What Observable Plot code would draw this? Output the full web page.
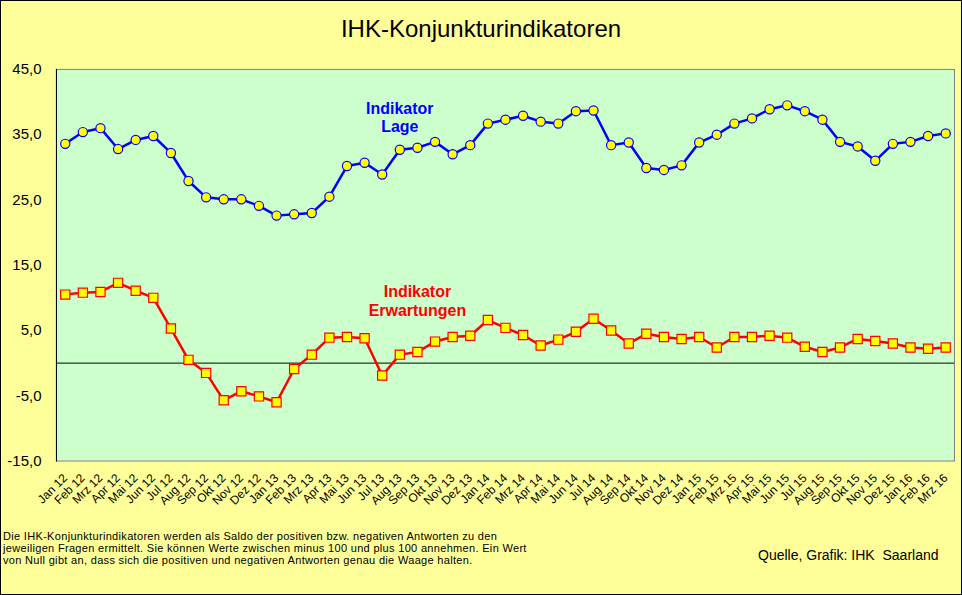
<!DOCTYPE html>
<html>
<head>
<meta charset="utf-8">
<script src="https://cdn.jsdelivr.net/npm/d3@7"></script>
<script src="https://cdn.jsdelivr.net/npm/@observablehq/plot@0.6"></script>
<style>
  body { margin: 0; background: #fff; }
  #box { position: absolute; left: 0; top: 0; width: 962px; height: 595px; box-sizing: border-box;
         border: 1px solid #000; background: #FFFF99; font-family: Arial, "Liberation Sans", sans-serif; overflow: hidden; }
  #title { position: absolute; left: 0; top: 14px; width: 960px; text-align: center; font-size: 24px; line-height: 28px; color: #000; }
  #chart { position: absolute; left: -1px; top: -1px; }
  #note { position: absolute; left: 2px; top: 529px; font-size: 11px; line-height: 12px; letter-spacing: 0.32px; color: #000; }
  #src { position: absolute; left: 757px; top: 546px; font-size: 14px; line-height: 16px; color: #000; }
</style>
</head>
<body>
<div id="box">
  <div id="chart"></div>
  <div id="title">IHK-Konjunkturindikatoren</div>
  <div id="note">Die IHK-Konjunkturindikatoren werden als Saldo der positiven bzw. negativen Antworten zu den<br>jeweiligen Fragen ermittelt. Sie können Werte zwischen minus 100 und plus 100 annehmen. Ein Wert<br>von Null gibt an, dass sich die positiven und negativen Antworten genau die Waage halten.</div>
  <div id="src">Quelle, Grafik: IHK&nbsp; Saarland</div>
</div>
<script>
const months = [
  "Jan 12","Feb 12","Mrz 12","Apr 12","Mai 12","Jun 12","Jul 12","Aug 12","Sep 12","Okt 12","Nov 12","Dez 12",
  "Jan 13","Feb 13","Mrz 13","Apr 13","Mai 13","Jun 13","Jul 13","Aug 13","Sep 13","Okt 13","Nov 13","Dez 13",
  "Jan 14","Feb 14","Mrz 14","Apr 14","Mai 14","Jun 14","Jul 14","Aug 14","Sep 14","Okt 14","Nov 14","Dez 14",
  "Jan 15","Feb 15","Mrz 15","Apr 15","Mai 15","Jun 15","Jul 15","Aug 15","Sep 15","Okt 15","Nov 15","Dez 15",
  "Jan 16","Feb 16","Mrz 16"
];
const lage = [
  33.6, 35.4, 36.0, 32.8, 34.2, 34.8, 32.2, 27.9, 25.4, 25.1, 25.1, 24.1,
  22.6, 22.8, 23.0, 25.5, 30.2, 30.7, 28.9, 32.7, 33.0, 33.9, 32.0, 33.4,
  36.7, 37.3, 37.9, 37.0, 36.7, 38.6, 38.7, 33.4, 33.8, 29.9, 29.6, 30.3,
  33.8, 35.0, 36.7, 37.5, 38.9, 39.5, 38.6, 37.3, 33.9, 33.2, 31.0, 33.6,
  33.9, 34.8, 35.2
];
const erwartungen = [
  10.5, 10.8, 10.9, 12.3, 11.1, 10.0, 5.3, 0.5, -1.5, -5.7, -4.3, -5.1,
  -6.0, -0.9, 1.3, 3.9, 4.0, 3.8, -1.9, 1.3, 1.7, 3.3, 4.0, 4.2,
  6.6, 5.4, 4.3, 2.7, 3.6, 4.8, 6.8, 5.0, 3.0, 4.5, 4.0, 3.7,
  4.0, 2.4, 4.0, 4.0, 4.2, 3.9, 2.5, 1.7, 2.4, 3.7, 3.4, 3.0,
  2.4, 2.2, 2.4
];
const yTicks = [-15, -5, 5, 15, 25, 35, 45];
const labels = [
  {text: "Indikator\nLage", month: "Aug 13", value: 37.7, color: "#0000FF"},
  {text: "Indikator\nErwartungen", month: "Sep 13", value: 9.6, color: "#FF0000"}
];

const data = months.map((m, i) => ({month: m, lage: lage[i], erw: erwartungen[i]}));

const chart = Plot.plot({
  width: 962,
  height: 595,
  marginLeft: 56,
  marginRight: 7,
  marginTop: 69,
  marginBottom: 134,
  style: {background: "transparent", fontFamily: "Arial, 'Liberation Sans', sans-serif", color: "#000"},
  x: {type: "point", domain: months, padding: 0.5, label: null},
  y: {domain: [-15, 45], label: null},
  marks: [
    Plot.frame({fill: "#CCFFCC", stroke: "#808080"}),
    Plot.frame({anchor: "left", stroke: "#000"}),
    Plot.ruleY([0], {stroke: "#000", strokeWidth: 1}),
    Plot.line(data, {x: "month", y: "lage", stroke: "#0000FF", strokeWidth: 2.5}),
    Plot.dot(data, {x: "month", y: "lage", r: 4.6, fill: "#FFFF00", stroke: "#0000FF", strokeWidth: 1.2}),
    Plot.line(data, {x: "month", y: "erw", stroke: "#FF0000", strokeWidth: 2.5}),
    Plot.dot(data, {x: "month", y: "erw", symbol: "square", r: 5.2, fill: "#FFFF00", stroke: "#FF0000", strokeWidth: 1.2}),
    Plot.text(labels, {x: "month", y: "value", text: "text", fill: "color", fontSize: 16, fontWeight: "bold", lineHeight: 1.15}),
    Plot.axisY({ticks: yTicks, tickSize: 0, tickPadding: 15, fontSize: 15, fill: "#000",
                tickFormat: d => d.toFixed(1).replace(".", ",")}),
    Plot.axisX({tickSize: 0, tickRotate: -45, tickPadding: 15, fontSize: 12, fill: "#000"})
  ]
});
document.getElementById("chart").appendChild(chart);
</script>
</body>
</html>
